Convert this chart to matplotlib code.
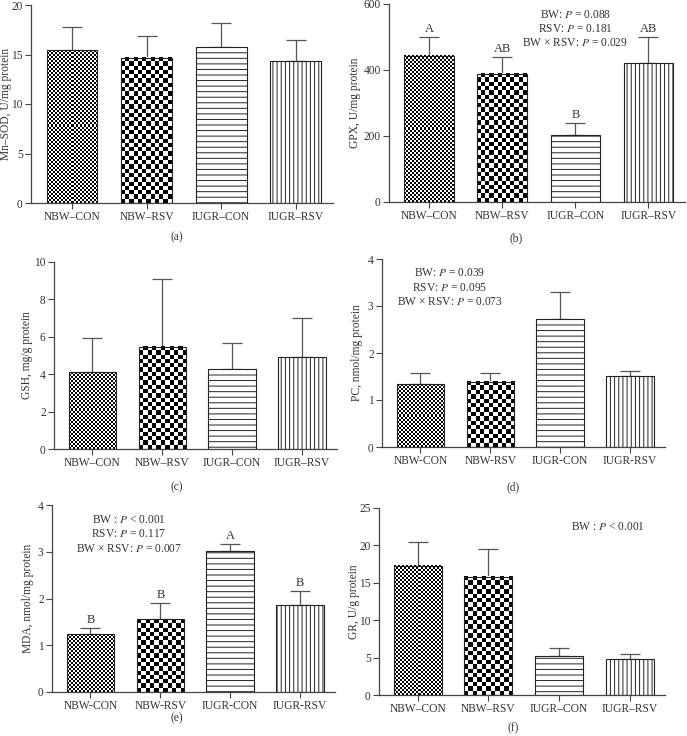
import numpy as np
import matplotlib
matplotlib.use('Agg')
import matplotlib.pyplot as plt

# group names (panels d and e use a plain hyphen in the original)
groups_dash = ['NBW\u2013CON', 'NBW\u2013RSV', 'IUGR\u2013CON', 'IUGR\u2013RSV']
groups_hyph = ['NBW-CON', 'NBW-RSV', 'IUGR-CON', 'IUGR-RSV']

# (a) Mn-SOD
mnsod_mean = [15.45, 14.68, 15.8, 14.34]
mnsod_err = [2.35, 2.22, 2.35, 2.12]
# (b) GPX
gpx_mean = [443, 388, 203, 422]
gpx_err = [56, 50, 37, 77]
gpx_letters = ['A', 'AB', 'B', 'AB']
gpx_notes = ['BW: $P$ = 0.088', 'RSV: $P$ = 0.181', 'BW \u00d7 RSV: $P$ = 0.029']
# (c) GSH
gsh_mean = [4.1, 5.47, 4.26, 4.94]
gsh_err = [1.85, 3.62, 1.39, 2.05]
# (d) PC
pc_mean = [1.34, 1.39, 2.72, 1.51]
pc_err = [0.23, 0.18, 0.57, 0.11]
pc_notes = ['BW: $P$ = 0.039', 'RSV: $P$ = 0.095', 'BW \u00d7 RSV: $P$ = 0.073']
# (e) MDA
mda_mean = [1.23, 1.56, 3.02, 1.86]
mda_err = [0.13, 0.34, 0.15, 0.29]
mda_letters = ['B', 'B', 'A', 'B']
mda_notes = ['BW : $P$ < 0.001', 'RSV: $P$ = 0.117', 'BW \u00d7 RSV: $P$ = 0.007']
# (f) GR
gr_mean = [17.25, 15.8, 5.2, 4.86]
gr_err = [3.15, 3.7, 1.04, 0.62]
gr_notes = ['BW : $P$ < 0.001']

W, H = 687, 736
TXT = '#333333'
LINE = '#444444'
FS = 8.3

plt.rcParams['font.family'] = ['Liberation Serif', 'DejaVu Serif']
plt.rcParams['mathtext.fontset'] = 'stix'
plt.rcParams['hatch.linewidth'] = 0.7
plt.rcParams['font.size'] = FS
plt.rcParams['text.color'] = TXT


def px_rect(left, right, top, bottom):
    return [left / W, 1 - bottom / H, (right - left) / W, (bottom - top) / H]


def checker_fill(ax, patch, cell):
    """Fill a bar with a black/white checkerboard drawn as an image."""
    x0, y0 = patch.get_x(), patch.get_y()
    x1, y1 = x0 + patch.get_width(), y0 + patch.get_height()
    (px0, py0), (px1, py1) = ax.transData.transform([(x0, y0), (x1, y1)])
    ncols = max(1, int(round(abs(px1 - px0) / cell)))
    nrows = max(1, int(round(abs(py1 - py0) / cell)))
    board = np.indices((nrows, ncols)).sum(axis=0) % 2
    ax.imshow(board, cmap='gray', vmin=0, vmax=1, extent=(x0, x1, y0, y1),
              origin='lower', interpolation='nearest', aspect='auto', zorder=1.5)


def draw_panel(rect, labels, mean, err, ylim, yticks, ylabel, label_off,
               letters=None, notes=None, note_xy=None, note_step=None):
    ax = fig.add_axes(rect)
    x = np.arange(len(mean))
    ax.set_xlim(-0.55, 3.5)
    ax.set_ylim(*ylim)
    bars = ax.bar(x, mean, width=0.68, facecolor='white', edgecolor='#222222',
                  linewidth=0.8, zorder=2)
    checker_fill(ax, bars[0], 2.0)
    checker_fill(ax, bars[1], 4.3)
    bars[0].set_facecolor('none')
    bars[1].set_facecolor('none')
    bars[2].set_hatch('---')
    bars[3].set_hatch('||||')
    ax.errorbar(x, mean, yerr=[np.zeros(len(err)), err], fmt='none',
                ecolor='#555555', elinewidth=0.9, capsize=7, capthick=0.9, zorder=1)
    if letters:
        for xi, m, e, t in zip(x, mean, err, letters):
            ax.annotate(t, (xi, m + e), xytext=(0, 1.5), textcoords='offset points',
                        ha='center', va='bottom', fontsize=FS + 0.7)
    if notes:
        nx, ny = note_xy
        for i, t in enumerate(notes):
            ax.text(nx, ny - i * note_step, t, ha='center', va='center', fontsize=FS)
    ax.set_xlim(-0.55, 3.5)
    ax.set_ylim(*ylim)
    ax.set_yticks(yticks)
    ax.set_xticks(x)
    ax.set_xticklabels(labels)
    ax.set_ylabel(ylabel, fontsize=FS, color=TXT)
    ax.yaxis.label.set_verticalalignment('center')
    ax.yaxis.set_label_coords(-label_off / (rect[2] * W), 0.5)
    for s in ['top', 'right']:
        ax.spines[s].set_visible(False)
    for s in ['left', 'bottom']:
        ax.spines[s].set_color(LINE)
        ax.spines[s].set_linewidth(0.9)
    ax.tick_params(direction='out', length=4, width=0.8, color=LINE,
                   labelcolor=TXT, labelsize=FS, pad=2)
    return ax


fig = plt.figure(figsize=(W / 100, H / 100), dpi=100)

draw_panel(px_rect(31, 333, 5, 203), groups_dash, mnsod_mean, mnsod_err,
           (0, 20), [0, 5, 10, 15, 20], 'Mn\u2013SOD, U/mg protein', 24.5)
draw_panel(px_rect(389, 685, 4, 202), groups_dash, gpx_mean, gpx_err,
           (0, 600), [0, 200, 400, 600], 'GPX, U/mg protein', 34,
           letters=gpx_letters, notes=gpx_notes, note_xy=(2.0, 567), note_step=43)
draw_panel(px_rect(54, 337, 262, 449), groups_dash, gsh_mean, gsh_err,
           (0, 10), [0, 2, 4, 6, 8, 10], 'GSH, mg/g protein', 27)
draw_panel(px_rect(382, 665, 259, 447), groups_hyph, pc_mean, pc_err,
           (0, 4), [0, 1, 2, 3, 4], 'PC, nmol/mg protein', 25,
           notes=pc_notes, note_xy=(0.42, 3.7), note_step=0.31)
draw_panel(px_rect(52, 335, 505, 692), groups_hyph, mda_mean, mda_err,
           (0, 4), [0, 1, 2, 3, 4], 'MDA, nmol/mg protein', 24,
           letters=mda_letters, notes=mda_notes, note_xy=(0.55, 3.68), note_step=0.31)
draw_panel(px_rect(379, 665, 508, 695), groups_dash, gr_mean, gr_err,
           (0, 25), [0, 5, 10, 15, 20, 25], 'GR, U/g protein', 25,
           notes=gr_notes, note_xy=(2.69, 22.5), note_step=1)

# panel letters under each chart
for t, px, py in [('(a)', 177, 237), ('(b)', 516, 238), ('(c)', 177, 487),
                  ('(d)', 513, 487), ('(e)', 177, 718), ('(f)', 513, 728)]:
    fig.text(px / W, 1 - py / H, t, ha='center', va='center', fontsize=FS)

fig.savefig('out.png', dpi=100)
